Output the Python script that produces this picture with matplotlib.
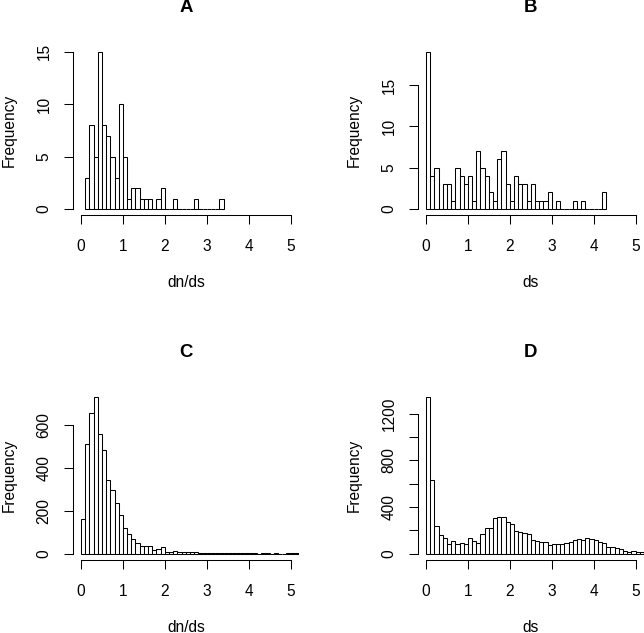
import numpy as np
import matplotlib.pyplot as plt

plt.rcParams['font.family'] = ['Liberation Sans', 'DejaVu Sans']

# all histograms use bins of width 0.1
bw = 0.1

# A: dn/ds, first bin starts at 0.1
a_start = 0.1
a_counts = [3, 8, 5, 15, 8, 7, 5, 3, 10, 5, 1, 2, 2, 1, 1, 1, 0, 1, 2, 0,
            0, 1, 0, 0, 0, 0, 1, 0, 0, 0, 0, 0, 1]

# B: ds
b_start = 0.0
b_counts = [19, 4, 5, 0, 3, 3, 1, 5, 4, 3, 4, 1, 7, 5, 4, 2, 1, 6, 7, 3,
            1, 4, 3, 3, 1, 3, 1, 1, 1, 2, 0, 1, 0, 0, 0, 1, 0, 1, 0, 0,
            0, 0, 2]

# C: dn/ds (tail goes past the plot edge)
c_start = 0.0
c_counts = [162, 511, 659, 734, 560, 485, 344, 296, 235, 182, 118, 90, 69, 48,
            37, 34, 34, 17, 23, 31, 8, 9, 11, 8, 9, 7, 10, 8, 4, 5,
            3, 4, 3, 2, 3, 2, 2, 3, 2, 4, 2, 2, 1, 2, 3, 1, 2, 1, 0, 2,
            3, 2]

# D: ds
d_start = 0.0
d_counts = [1346, 629, 234, 157, 134, 86, 111, 83, 94, 80, 134, 109, 94, 169,
            223, 223, 303, 311, 311, 269, 251, 194, 189, 180, 166, 117, 109, 103,
            100, 71, 80, 80, 86, 94, 103, 120, 123, 117, 131, 129, 114, 103,
            91, 57, 54, 46, 37, 26, 17, 20, 11, 11]

titles = ['A', 'B', 'C', 'D']
xlabels = ['dn/ds', 'ds', 'dn/ds', 'ds']
starts = [a_start, b_start, c_start, d_start]
counts = [a_counts, b_counts, c_counts, d_counts]
yticks = [[0, 5, 10, 15], [0, 5, 10, 15], [0, 200, 400, 600],
          [0, 200, 400, 600, 800, 1000, 1200]]
ytick_labels = [['0', '5', '10', '15'], ['0', '5', '10', '15'],
                ['0', '200', '400', '600'],
                ['0', '', '400', '', '800', '', '1200']]
xticks = [0, 1, 2, 3, 4, 5]

# axes boxes in figure fractions (R style plot regions)
boxes = [[0.1127, 0.6599, 0.3516, 0.268], [0.6484, 0.6599, 0.3516, 0.268],
         [0.1127, 0.1153, 0.3516, 0.268], [0.6484, 0.1153, 0.3516, 0.268]]

fig = plt.figure(figsize=(6.44, 6.33), dpi=100)
lw = 0.75

for i in range(4):
    ax = fig.add_axes(boxes[i])
    h = np.array(counts[i])
    edges = starts[i] + bw*np.arange(len(h))
    ax.bar(edges, h, width=bw, align='edge', color='white',
           edgecolor='black', linewidth=lw)
    m = h.max()
    ax.set_xlim(-0.2, 5.2)
    ax.set_ylim(-0.04*m, 1.04*m)

    # R like axes: only left and bottom, lines from first to last tick
    ax.spines['top'].set_visible(False)
    ax.spines['right'].set_visible(False)
    ax.spines['left'].set_bounds(0, yticks[i][-1])
    ax.spines['bottom'].set_bounds(0, 5)
    ax.spines['left'].set_linewidth(lw)
    ax.spines['bottom'].set_linewidth(lw)

    ax.set_xticks(xticks)
    ax.set_xticklabels([str(t) for t in xticks])
    ax.set_yticks(yticks[i])
    ax.set_yticklabels(ytick_labels[i], rotation=90, va='center')
    ax.tick_params(direction='out', length=6.7, width=lw, labelsize=11.2)
    ax.tick_params(axis='x', pad=10.5)
    ax.tick_params(axis='y', pad=8.5)

    ax.set_xlabel(xlabels[i], fontsize=11.2, labelpad=15)
    ax.set_ylabel('Frequency', fontsize=11.2, labelpad=14)
    ax.set_title(titles[i], fontsize=13.4, fontweight='bold', pad=24)

plt.savefig('out.png', dpi=100)
